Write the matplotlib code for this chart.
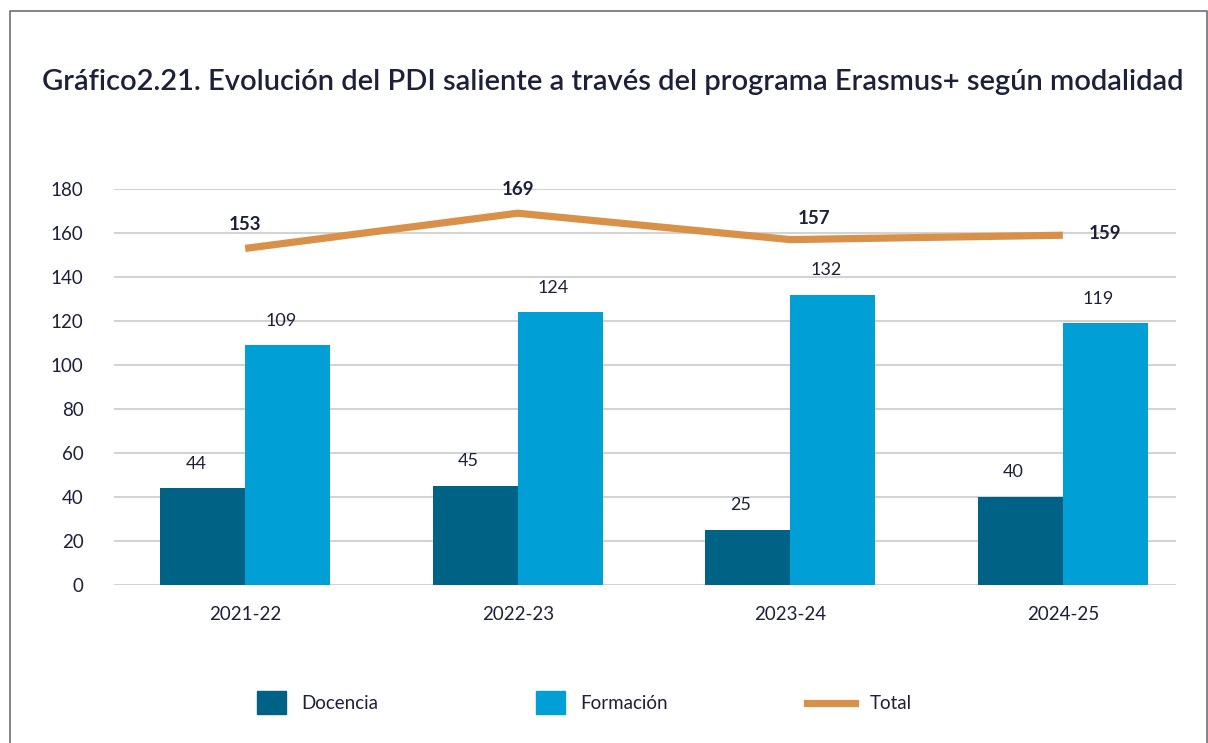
import numpy as np
import matplotlib.pyplot as plt
from matplotlib.lines import Line2D
from matplotlib.patches import Rectangle
from matplotlib.legend_handler import HandlerPatch

plt.rcParams['font.family'] = ['Lato', 'DejaVu Sans']

# Data
cursos = ['2021-22', '2022-23', '2023-24', '2024-25']
docencia = [44, 45, 25, 40]
formacion = [109, 124, 132, 119]
total = [153, 169, 157, 159]

c_doc = '#006385'
c_form = '#00a0d6'
c_tot = '#d9914a'
c_txt = '#1c2038'

fig = plt.figure(figsize=(12.08, 7.43), dpi=100)
ax = fig.add_axes([0.0944, 0.2127, 0.8791, 0.5329])

x = np.arange(len(cursos))
w = 0.312
b1 = ax.bar(x - w / 2, docencia, w, color=c_doc, label='Docencia', zorder=3)
b2 = ax.bar(x + w / 2, formacion, w, color=c_form, label='Formación', zorder=3)
ax.plot(x, total, color=c_tot, lw=5.2, solid_capstyle='butt', zorder=4, label='Total')

# bar value labels
for rect, v in zip(list(b1) + list(b2), docencia + formacion):
    ax.annotate(str(v), (rect.get_x() + rect.get_width() / 2 - 0.025, v),
                xytext=(0, 12), textcoords='offset points', ha='center', va='bottom',
                fontsize=13, color=c_txt)

# total labels
offs = [(0, 11), (0, 11), (17, 9), (30, -5)]
for xi, v, o in zip(x, total, offs):
    ax.annotate(str(v), (xi, v), xytext=o, textcoords='offset points',
                ha='center', va='bottom', fontsize=13.5, fontweight='bold',
                color=c_txt, annotation_clip=False)

ax.set_ylim(0, 180)
ax.set_yticks(range(0, 181, 20))
ax.set_xlim(-0.481, 3.415)
ax.set_xticks(x)
ax.set_xticklabels(cursos)
ax.tick_params(axis='both', length=0, labelsize=13.5, labelcolor=c_txt)
ax.tick_params(axis='y', pad=22)
ax.tick_params(axis='x', pad=15)
ax.yaxis.grid(True, color='#d3d3d3', lw=1.5, zorder=0)
ax.set_axisbelow(True)
for s in ax.spines.values():
    s.set_visible(False)

fig.text(0.035, 0.889, 'Gráfico2.21. Evolución del PDI saliente a través del programa Erasmus+ según modalidad',
         fontsize=21, fontweight='semibold', color=c_txt, va='center', ha='left')


def square(legend, orig_handle, xdescent, ydescent, width, height, fontsize):
    sw, sh = 21, 17
    return Rectangle((width - sw - xdescent, height / 2 - ydescent - sh / 2), sw, sh)


handles = [Rectangle((0, 0), 1, 1, color=c_doc), Rectangle((0, 0), 1, 1, color=c_form),
           Line2D([], [], color=c_tot, lw=5.2)]
fig.legend(handles, ['Docencia', 'Formación', 'Total'], loc='center',
           bbox_to_anchor=(0.476, 0.053), ncol=3, frameon=False, fontsize=13.5,
           labelcolor=c_txt, handlelength=2.56, columnspacing=7.4, handletextpad=0.8,
           handler_map={Rectangle: HandlerPatch(patch_func=square)})

# frame
fig.add_artist(Line2D([0.0085, 0.0085, 0.999, 0.999], [0, 0.985, 0.985, 0],
                      color='#6b6e78', lw=1.2, transform=fig.transFigure))

fig.savefig('out.png', dpi=100)
